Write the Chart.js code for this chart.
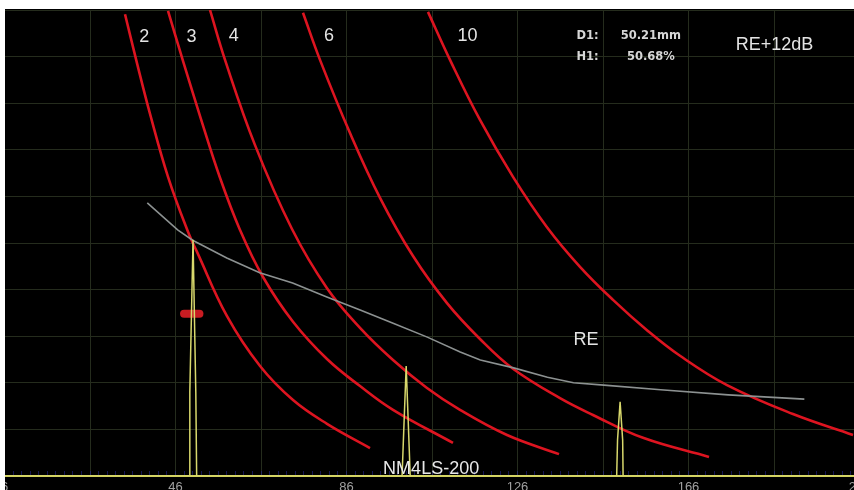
<!DOCTYPE html>
<html><head><meta charset="utf-8">
<script src="https://cdn.jsdelivr.net/npm/chart.js@4.4.1/dist/chart.umd.min.js"></script>
<style>
html,body{margin:0;padding:0;width:854px;height:490px;overflow:hidden;background:#fff;}
#c{position:absolute;left:0;top:0;background:#000;}
.mask{position:absolute;background:#fff;z-index:2;}
</style></head><body>
<canvas id="c" width="866" height="500" style="width:866px;height:500px"></canvas>
<div class="mask" style="left:0;top:0;width:854px;height:9px"></div>
<div class="mask" style="left:0;top:0;width:5px;height:490px"></div>
<script>
// ---- data (x: sound path mm, y: amplitude %) ----
const xTickLabels = [6, 46, 86, 126, 166, 206];
const curveNames = ['2', '3', '4', '6', '10'];
const curve2 = [[34.19,99.1],[36.99,88.6],[40.04,77.7],[44.25,64.2],[48.92,52.4],[51.03,48.1],[58.05,34.3],[65.77,23.6],[73.49,16.3],[81.44,11.2],[91.50,6.0]];
const curve3 = [[44.25,99.8],[47.75,89.1],[51.96,76.6],[56.41,64.0],[61.09,52.8],[66.47,42.7],[73.49,33.1],[81.44,25.1],[89.16,19.3],[96.88,14.2],[110.91,7.1]];
const curve4 = [[54.07,100],[57.58,89.3],[64.60,71.0],[73.25,53.0],[81.44,40.3],[89.16,31.8],[96.88,24.9],[104.83,18.9],[112.55,14.2],[123.54,8.8],[135.71,4.7]];
const curve6 = [[75.82,99.4],[79.80,89.3],[86.82,73.6],[93.84,59.7],[101.56,47.2],[109.51,37.1],[117.23,29.4],[124.95,23.0],[135.94,16.7],[143.66,13.1],[155.36,8.2],[170.80,4.1]];
const curve10 = [[105.06,99.6],[110.21,89.3],[117.23,76.4],[124.95,64.2],[132.90,53.4],[140.62,44.9],[148.34,37.8],[156.29,31.3],[164.01,25.8],[175.01,19.5],[190.44,13.3],[204.48,8.8]];
const reCurve = [[39.4,58.6],[46.5,52.8],[50.0,50.6],[58.0,46.8],[65.7,43.6],[73.4,41.4],[81.4,38.4],[89.2,35.6],[96.9,32.8],[104.9,29.8],[112.6,26.6],[117.3,24.9],[125.1,23.2],[133.0,21.2],[139.1,20.0],[146.2,19.5],[159.5,18.5],[175.3,17.4],[193.1,16.5]];
const aScan = [[6,0],[49.2,0],[49.35,18],[50.1,50.7],[50.75,18],[50.95,0],[99.0,0],[99.25,6.2],[99.96,23.6],[100.66,6.2],[100.9,0],[149.2,0],[149.4,7.7],[150.0,15.9],[150.6,7.7],[150.7,0],[206,0]];
const gateMarker = [[48.0,34.8],[51.6,34.8]];
const readout = {D1: '50.21mm', H1: '50.68%', gain: 'RE+12dB', ref: 'RE', probe: 'NM4LS-200'};
const curveLabelPos = [[38.7,94.2],[49.75,94.2],[59.6,94.4],[81.9,94.4],[114.3,94.4]];

const toPts = a => a.map(p => ({x: p[0], y: p[1]}));
const RED = '#dd1420';
const redSet = (d) => ({data: toPts(d), borderColor: RED, borderWidth: 2.6, tension: 0.4, order: 3});

const txt = [
  ...curveNames.map((n, i) => ({t: n, x: curveLabelPos[i][0], y: curveLabelPos[i][1], f: '18px "Liberation Sans"', c: '#e4e4e4', a: 'center'})),
  {t: 'D1:', x: 139.8, y: 94.4, f: 'bold 11.5px "DejaVu Sans"', c: '#d6d6d6', a: 'left'},
  {t: readout.D1, x: 157.2, y: 94.4, f: 'bold 11.5px "DejaVu Sans"', c: '#d6d6d6', a: 'center'},
  {t: 'H1:', x: 139.8, y: 89.9, f: 'bold 11.5px "DejaVu Sans"', c: '#d6d6d6', a: 'left'},
  {t: readout.H1, x: 157.2, y: 89.9, f: 'bold 11.5px "DejaVu Sans"', c: '#d6d6d6', a: 'center'},
  {t: readout.gain, x: 186.1, y: 92.5, f: '18px "Liberation Sans"', c: '#e4e4e4', a: 'center'},
  {t: readout.ref, x: 142.0, y: 29.2, f: '18px "Liberation Sans"', c: '#e4e4e4', a: 'center'},
  {t: readout.probe, x: 105.8, y: 1.6, f: '18px "Liberation Sans"', c: '#e8e8e8', a: 'center'}
];

const textPlugin = {
  id: 'texts',
  afterDatasetsDraw(chart) {
    const {ctx, scales: {x, y}} = chart;
    ctx.save();
    ctx.textBaseline = 'middle';
    for (const a of txt) {
      ctx.font = a.f; ctx.fillStyle = a.c; ctx.textAlign = a.a;
      ctx.fillText(a.t, x.getPixelForValue(a.x), y.getPixelForValue(a.y));
    }
    ctx.restore();
  }
};

new Chart(document.getElementById('c'), {
  type: 'line',
  data: {datasets: [
    {data: toPts(aScan), borderColor: '#d8d86c', borderWidth: 1.5, tension: 0, order: 0},
    {data: toPts(gateMarker), borderColor: '#c81c22', borderWidth: 8, borderCapStyle: 'round', order: 1},
    {data: toPts(reCurve), borderColor: '#8c9191', borderWidth: 1.6, tension: 0, order: 2},
    redSet(curve2), redSet(curve3), redSet(curve4), redSet(curve6), redSet(curve10)
  ]},
  options: {
    responsive: false, animation: false, devicePixelRatio: 1,
    layout: {padding: {left: 4.5, right: 6.5, top: 10, bottom: 0}},
    plugins: {legend: {display: false}, tooltip: {enabled: false}},
    elements: {point: {radius: 0}},
    scales: {
      x: {type: 'linear', min: 6, max: 206, weight: 1,
        ticks: {stepSize: 20, autoSkip: false, maxRotation: 0, color: '#a0a0a0', padding: 4,
          font: {family: 'Liberation Sans', size: 13},
          callback: v => xTickLabels.includes(v) ? String(v) : ''},
        grid: {color: '#252c1d', lineWidth: 1, drawTicks: false},
        border: {display: true, color: '#d2d260', width: 2},
        afterFit(s) { s.height = 24; s.paddingLeft = 0; s.paddingRight = 0; }
      },
      ruler: {type: 'linear', axis: 'x', position: 'bottom', min: 6, max: 206, weight: 0,
        ticks: {display: false, stepSize: 2, autoSkip: false},
        grid: {drawOnChartArea: false, drawTicks: true, tickLength: -5, color: 'rgba(40,40,150,0.55)', lineWidth: 1},
        border: {display: false},
        afterFit(s) { s.height = 0; s.paddingLeft = 0; s.paddingRight = 0; }
      },
      y: {min: 0, max: 100,
        ticks: {display: false, stepSize: 10},
        grid: {color: '#252c1d', lineWidth: 1, drawTicks: false},
        border: {display: false},
        afterFit(s) { s.width = 0; }
      }
    }
  },
  plugins: [textPlugin]
});
</script></body></html>
